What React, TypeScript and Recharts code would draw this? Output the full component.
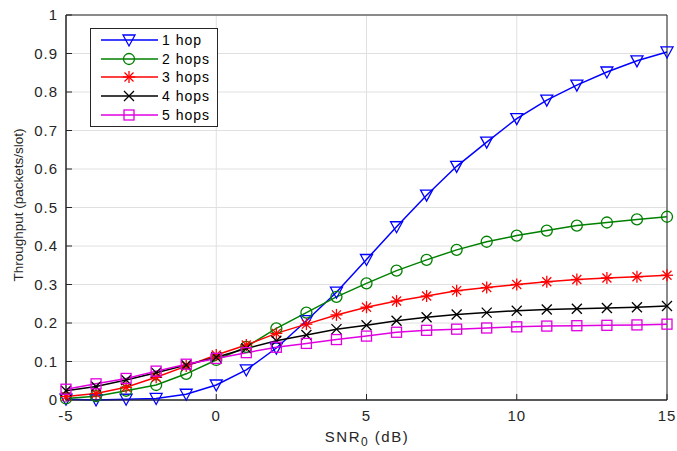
import React from 'react';
import { LineChart, Line, XAxis, YAxis, CartesianGrid, Legend, ReferenceArea } from 'recharts';

const snr = [-5, -4, -3, -2, -1, 0, 1, 2, 3, 4, 5, 6, 7, 8, 9, 10, 11, 12, 13, 14, 15];
const hop1 = [0.002, 0.0, 0.002, 0.004, 0.015, 0.039, 0.078, 0.135, 0.206, 0.28, 0.365, 0.45, 0.532, 0.607, 0.67, 0.731, 0.779, 0.818, 0.852, 0.881, 0.904];
const hop2 = [0.004, 0.01, 0.024, 0.039, 0.068, 0.104, 0.138, 0.186, 0.227, 0.268, 0.303, 0.336, 0.364, 0.39, 0.411, 0.427, 0.44, 0.453, 0.461, 0.469, 0.476];
const hop3 = [0.009, 0.017, 0.033, 0.059, 0.088, 0.117, 0.143, 0.173, 0.197, 0.221, 0.241, 0.257, 0.27, 0.284, 0.292, 0.3, 0.307, 0.313, 0.317, 0.32, 0.324];
const hop4 = [0.024, 0.035, 0.052, 0.071, 0.091, 0.111, 0.134, 0.154, 0.169, 0.184, 0.194, 0.206, 0.215, 0.222, 0.227, 0.232, 0.235, 0.237, 0.239, 0.241, 0.244];
const hop5 = [0.028, 0.042, 0.056, 0.075, 0.093, 0.108, 0.123, 0.137, 0.147, 0.157, 0.166, 0.176, 0.181, 0.184, 0.187, 0.19, 0.192, 0.193, 0.194, 0.195, 0.197];

const xTicks = [-5, 0, 5, 10, 15];
const yTicks = [0, 0.1, 0.2, 0.3, 0.4, 0.5, 0.6, 0.7, 0.8, 0.9, 1];

const data = snr.map((x, i) => ({ x, h1: hop1[i], h2: hop2[i], h3: hop3[i], h4: hop4[i], h5: hop5[i] }));

const FONT = '"Liberation Sans", Arial, sans-serif';
const AXIS = '#262626';

type Shape = 'tri' | 'circle' | 'star' | 'x' | 'square';

const series: { key: string; name: string; color: string; shape: Shape }[] = [
  { key: 'h1', name: '1 hop', color: '#0000FF', shape: 'tri' },
  { key: 'h2', name: '2 hops', color: '#008000', shape: 'circle' },
  { key: 'h3', name: '3 hops', color: '#FF0000', shape: 'star' },
  { key: 'h4', name: '4 hops', color: '#000000', shape: 'x' },
  { key: 'h5', name: '5 hops', color: '#E000E0', shape: 'square' },
];

const Marker = ({ cx, cy, color, shape }: { cx: number; cy: number; color: string; shape: Shape }) => {
  const sw = 1.3;
  if (shape === 'tri') {
    return <polygon points={`${cx - 6},${cy - 5} ${cx + 6},${cy - 5} ${cx},${cy + 6}`} fill="none" stroke={color} strokeWidth={sw} />;
  }
  if (shape === 'circle') {
    return <circle cx={cx} cy={cy} r={5.5} fill="none" stroke={color} strokeWidth={sw} />;
  }
  if (shape === 'square') {
    return <rect x={cx - 5} y={cy - 5} width={10} height={10} fill="none" stroke={color} strokeWidth={sw} />;
  }
  if (shape === 'x') {
    return (
      <g stroke={color} strokeWidth={sw}>
        <line x1={cx - 5} y1={cy - 5} x2={cx + 5} y2={cy + 5} />
        <line x1={cx - 5} y1={cy + 5} x2={cx + 5} y2={cy - 5} />
      </g>
    );
  }
  return (
    <g stroke={color} strokeWidth={sw}>
      <line x1={cx - 6} y1={cy} x2={cx + 6} y2={cy} />
      <line x1={cx} y1={cy - 6} x2={cx} y2={cy + 6} />
      <line x1={cx - 4.5} y1={cy - 4.5} x2={cx + 4.5} y2={cy + 4.5} />
      <line x1={cx - 4.5} y1={cy + 4.5} x2={cx + 4.5} y2={cy - 4.5} />
    </g>
  );
};

const LegendBox = () => (
  <div style={{ border: '1px solid #262626', background: '#fff', width: 126, padding: '2px 0', fontFamily: FONT, fontSize: 14, letterSpacing: 1 }}>
    {series.map((s) => (
      <div key={s.key} style={{ display: 'flex', alignItems: 'center', height: 18.6 }}>
        <svg width={70} height={18} style={{ flex: 'none' }}>
          <line x1={10} y1={9} x2={67} y2={9} stroke={s.color} strokeWidth={1.5} />
          <Marker cx={38} cy={9} color={s.color} shape={s.shape} />
        </svg>
        <span style={{ color: '#000', marginLeft: 1, whiteSpace: 'nowrap' }}>{s.name}</span>
      </div>
    ))}
  </div>
);

const fmtY = (v: number) => (v === 0 ? '0' : v === 1 ? '1' : v.toFixed(1));

// ticks drawn by hand so the font size sticks
const XTick = ({ x, y, payload }: any) => (
  <text x={x} y={y} dy={0} textAnchor="middle" dominantBaseline="hanging" fontFamily={FONT} fontSize={15} letterSpacing={1} fill={AXIS}>
    {payload.value}
  </text>
);

const YTick = ({ x, y, payload }: any) => (
  <text x={x} y={y} dy={5} textAnchor="end" fontFamily={FONT} fontSize={15} letterSpacing={1} fill={AXIS}>
    {fmtY(payload.value)}
  </text>
);

export default function App() {
  return (
    <div style={{ position: 'absolute', left: 0, top: 0, width: 677, height: 451, background: '#fff' }}>
      <LineChart width={677} height={451} data={data} margin={{ top: 15, right: 10, bottom: 21, left: 26 }}>
        <CartesianGrid stroke="#e0e0e0" strokeWidth={1} />
        <XAxis
          dataKey="x"
          type="number"
          domain={[-5, 15]}
          ticks={xTicks}
          height={30}
          stroke={AXIS}
          tickSize={-6}
          tickMargin={16}
          tick={<XTick />}
        />
        <YAxis
          type="number"
          domain={[0, 1]}
          ticks={yTicks}
          width={40}
          stroke={AXIS}
          tickSize={-6}
          tickMargin={14}
          tick={<YTick />}
        />
        <ReferenceArea x1={-5} x2={15} y1={0} y2={1} fill="none" stroke={AXIS} strokeWidth={1} />
        <Legend layout="vertical" align="center" verticalAlign="middle" content={<LegendBox />} wrapperStyle={{ left: 90, top: 28, width: 128 }} />
        {series.map((s) => (
          <Line
            key={s.key}
            dataKey={s.key}
            name={s.name}
            stroke={s.color}
            strokeWidth={1.5}
            isAnimationActive={false}
            dot={(p: any) => <Marker key={`${s.key}-${p.index}`} cx={p.cx} cy={p.cy} color={s.color} shape={s.shape} />}
            activeDot={false}
          />
        ))}
        <text x={367} y={442} textAnchor="middle" fontFamily={FONT} fontSize={15} letterSpacing={1.5} fill={AXIS}>
          SNR<tspan fontSize={12} dy={4}>0</tspan>
          <tspan dy={-4}> (dB)</tspan>
        </text>
        <text x={23} y={205} transform="rotate(-90 23 205)" textAnchor="middle" fontFamily={FONT} fontSize={13.5} fill={AXIS}>
          Throughput (packets/slot)
        </text>
      </LineChart>
    </div>
  );
}
